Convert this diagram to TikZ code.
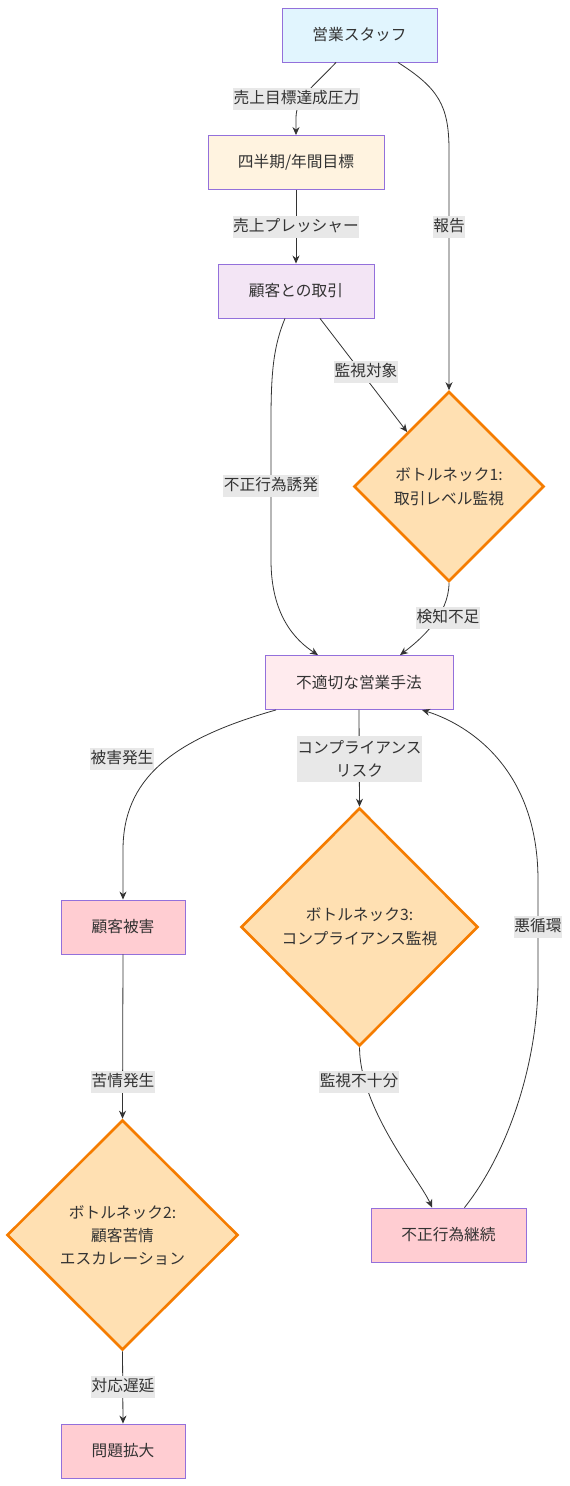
\documentclass[tikz,border=0pt]{standalone}
\usepackage{fontspec}
\setmainfont{Noto Sans CJK JP}
\usetikzlibrary{shapes.geometric,arrows.meta,calc}
\definecolor{lineC}{HTML}{333333}
\definecolor{textC}{HTML}{333333}
\definecolor{boxC}{HTML}{9370DB}
\definecolor{lblbg}{HTML}{E8E8E8}
\definecolor{staffC}{HTML}{E1F5FE}
\definecolor{goalC}{HTML}{FFF3E0}
\definecolor{dealC}{HTML}{F3E5F5}
\definecolor{badC}{HTML}{FFEBEE}
\definecolor{harmC}{HTML}{FFCDD2}
\definecolor{bnfill}{HTML}{FFE0B2}
\definecolor{bnline}{HTML}{F57C00}
\begin{document}
\begin{tikzpicture}[x=1pt,y=-1pt,
  font=\fontsize{15.7}{24}\selectfont,
  box/.style={draw=boxC, line width=0.9pt, text=textC, minimum height=54, inner sep=0},
  bneck/.style={diamond, draw=bnline, fill=bnfill, line width=2.6pt, inner sep=0, align=center, text=textC},
  lbl/.style={fill=lblbg, text=textC, inner xsep=0.5, inner ysep=3, align=center, text height=12.5, text depth=4},
  conn/.style={draw=lineC, line width=0.8pt, -{Stealth[length=8pt,width=7pt]}}
]
\useasboundingbox (0,0) rectangle (570,1486);
\fill[white] (0,0) rectangle (570,1486);

\node[box, fill=staffC, minimum width=155] (staff) at (359.5,35) {営業スタッフ};
\node[box, fill=goalC, minimum width=176] (goal) at (296,162.5) {四半期/年間目標};
\node[box, fill=dealC, minimum width=156] (deal) at (296,291) {顧客との取引};
\node[bneck, minimum width=190, minimum height=190] (bn1) at (449,486.5) {ボトルネック1:\\取引レベル監視};
\node[box, fill=badC, minimum width=188] (bad) at (359,682.5) {不適切な営業手法};
\node[bneck, minimum width=237, minimum height=238] (bn3) at (359.5,927) {ボトルネック3:\\コンプライアンス監視};
\node[box, fill=harmC, minimum width=124] (harm) at (123,927) {顧客被害};
\node[bneck, minimum width=231, minimum height=230, font=\fontsize{15.7}{23}\selectfont] (bn2) at (122.5,1235) {ボトルネック2:\\顧客苦情\\エスカレーション};
\node[box, fill=harmC, minimum width=155] (cont) at (448.5,1235) {不正行為継続};
\node[box, fill=harmC, minimum width=124] (expand) at (123,1451) {問題拡大};

\draw[conn] ([xshift=-23.5]staff.south) .. controls (312,88) and (296,98) .. (296,118) -- (goal.north);
\draw[conn] ([xshift=38.5]staff.south) .. controls (438,88) and (449,105) .. (449,150) -- (bn1.north);
\draw[conn] (goal.south) -- (deal.north);
\draw[conn] ([xshift=24]deal.south) -- (bn1);
\draw[conn] ([xshift=-11]deal.south) .. controls (274,345) and (271,370) .. (271,420) -- (271,560) .. controls (271,615) and (295,640) .. ([xshift=-41]bad.north);
\draw[conn] (bn1.south) .. controls (449,615) and (420,640) .. ([xshift=41]bad.north);
\draw[conn] ([xshift=-83]bad.south) .. controls (170,740) and (123,780) .. (123,850) -- (harm.north);
\draw[conn] (bad.south) -- (bn3.north);
\draw[conn] (bn3.south) .. controls (360,1110) and (420,1180) .. ([xshift=-16.5]cont.north);
\draw[conn] ([xshift=16]cont.north) .. controls (510,1150) and (538,1060) .. (538,980) -- (538,880) .. controls (538,770) and (470,725) .. ([xshift=63]bad.south);
\draw[conn] (harm.south) -- (bn2.north);
\draw[conn] (bn2.south) -- (expand.north);

\node[lbl] (l1) at (296.5,99) {売上目標達成圧力};
\node[lbl] (l2) at (449,227) {報告};
\node[lbl] (l3) at (296,227) {売上プレッシャー};
\node[lbl] (l4) at (366,372) {監視対象};
\node[lbl] (l5) at (271,486) {不正行為誘発};
\node[lbl] (l6) at (448,618) {検知不足};
\node[lbl] (l7) at (122,759) {被害発生};
\node[lbl, text height=, text depth=, inner ysep=5, font=\fontsize{15.7}{23}\selectfont] (l8) at (359.5,759) {コンプライアンス\\リスク};
\node[lbl] (l9) at (538,927) {悪循環};
\node[lbl] (l10) at (123,1082) {苦情発生};
\node[lbl] (l11) at (359,1082) {監視不十分};
\node[lbl] (l12) at (123,1387) {対応遅延};
\end{tikzpicture}
\end{document}
